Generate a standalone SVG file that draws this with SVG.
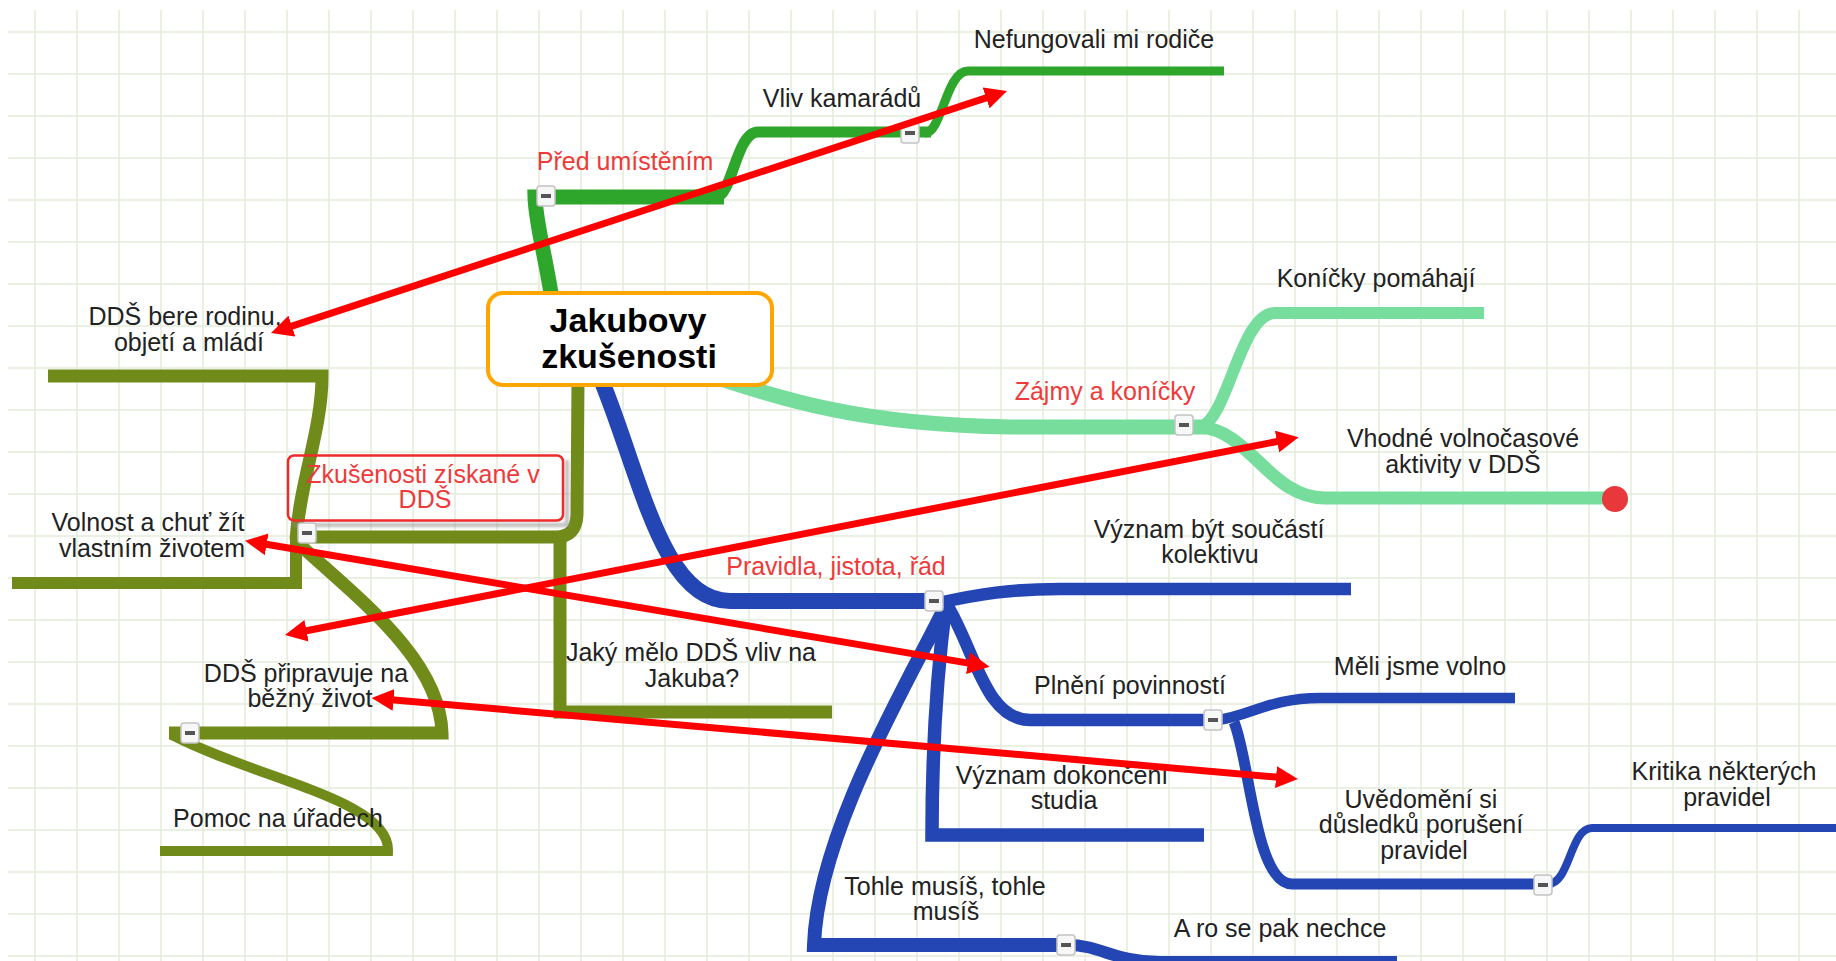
<svg xmlns="http://www.w3.org/2000/svg" xmlns:xlink="http://www.w3.org/1999/xlink" width="1836" height="961" viewBox="0 0 1836 961">
<defs>
<style>
.t{font-family:"Liberation Sans",Arial,sans-serif;font-size:25px;fill:#222;text-anchor:middle}
.r{fill:#ee3a3a}
.b{font-family:"Liberation Sans",Arial,sans-serif;font-size:34px;font-weight:bold;fill:#000;text-anchor:middle}
.g1{stroke:#2ea52b}
.g2{stroke:#76dd9c}
.g3{stroke:#718b1b}
.g4{stroke:#2346b4}
</style>
<marker id="ah" markerUnits="userSpaceOnUse" markerWidth="22" markerHeight="22" viewBox="0 0 22 22" refX="8" refY="11" orient="auto-start-reverse">
<path d="M0,0 L22,11 L0,22 z" fill="#ff0000"/>
</marker>
<g id="btn">
<rect x="-9" y="-10" width="18" height="20" rx="3" fill="#f7f7f7" stroke="#c4c4c4" stroke-width="1.5"/>
<rect x="-5" y="-2" width="10" height="4" fill="#555"/>
</g>
<filter id="blur" x="-10%" y="-10%" width="120%" height="130%"><feGaussianBlur stdDeviation="1.5"/></filter>
</defs>
<rect width="1836" height="961" fill="#fff"/>
<g id="grid" stroke="#e4edda" stroke-width="1.5" fill="none">
<path d="M35,10V961M77,10V961M119,10V961M161,10V961M203,10V961M245,10V961M287,10V961M329,10V961M371,10V961M413,10V961M455,10V961M497,10V961M539,10V961M581,10V961M623,10V961M665,10V961M707,10V961M749,10V961M791,10V961M833,10V961M875,10V961M917,10V961M959,10V961M1001,10V961M1043,10V961M1085,10V961M1127,10V961M1169,10V961M1211,10V961M1253,10V961M1295,10V961M1337,10V961M1379,10V961M1421,10V961M1463,10V961M1505,10V961M1547,10V961M1589,10V961M1631,10V961M1673,10V961M1715,10V961M1757,10V961M1799,10V961"/>
<path d="M8,32H1836M8,74H1836M8,116H1836M8,158H1836M8,200H1836M8,242H1836M8,284H1836M8,326H1836M8,368H1836M8,410H1836M8,452H1836M8,494H1836M8,536H1836M8,578H1836M8,620H1836M8,662H1836M8,704H1836M8,746H1836M8,788H1836M8,830H1836M8,872H1836M8,914H1836M8,956H1836"/>
</g>
<g id="connectors" fill="none" stroke-linecap="butt" stroke-linejoin="miter">
<g id="branch-pred">
<path class="g1" d="M556,330 C550,270 536,230 535,197 L724,197" stroke-width="15"/>
<path class="g1" d="M716,197 C732,197 736,132 758,132 L931,132" stroke-width="11"/>
<path class="g1" d="M925,133 C942,133 946,71 968,71 L1224,71" stroke-width="9"/>
</g>
<g id="branch-zajmy">
<path class="g2" d="M700,372 C785,400 860,425 1010,427 L1206,427" stroke-width="15"/>
<path class="g2" d="M1200,427 C1228,420 1240,313 1275,313 L1484,313" stroke-width="12"/>
<path class="g2" d="M1200,427 C1250,430 1270,498 1325,498 L1605,498" stroke-width="13"/>
</g>
<g id="branch-zkusenosti">
<path class="g3" d="M578,380 L577,515 Q576,537 556,537 L294,537" stroke-width="13"/>
<path class="g3" d="M560,537 V712 H832" stroke-width="13"/>
<path class="g3" d="M48,376 L322,376 C322,430 300,480 296,540" stroke-width="13"/>
<path class="g3" d="M12,583 L296,583 L296,537" stroke-width="12"/>
<path class="g3" d="M300,545 C360,600 440,660 442,733 L169,733" stroke-width="13"/>
<path class="g3" d="M172,735 C260,780 390,800 388,851 L160,851" stroke-width="10"/>
</g>
<g id="branch-pravidla">
<path class="g4" d="M598,372 C640,470 660,601 730,601 L940,601" stroke-width="16"/>
<path class="g4" d="M938,603 C980,594 1010,589 1060,589 L1351,589" stroke-width="12.5"/>
<path class="g4" d="M946,603 C975,650 985,720 1030,720 L1222,720" stroke-width="12.5"/>
<path class="g4" d="M946,603 C936,680 932,760 932,835 L1204,835" stroke-width="13.5"/>
<path class="g4" d="M946,605 C910,680 818,830 814,945 L1065,945" stroke-width="14"/>
<path class="g4" d="M1218,720 C1250,716 1270,698 1320,698 L1515,698" stroke-width="10.5"/>
<path class="g4" d="M1234,722 C1250,760 1255,884 1292,884 L1545,884" stroke-width="11"/>
<path class="g4" d="M1548,884 C1570,884 1570,828 1592,828 L1836,828" stroke-width="8"/>
<path class="g4" d="M1068,945 C1100,945 1115,962 1160,962 L1397,962" stroke-width="12"/>
</g>
</g>
<g id="n-root">
<rect x="488" y="293" width="284" height="92" rx="15" fill="#fff" stroke="#ffa500" stroke-width="4"/>
<text class="b" x="628" y="332">Jakubovy</text>
<text class="b" x="629" y="368">zkušenosti</text>
</g>
<g id="n-pred">
<text class="t r" x="625" y="170">Před umístěním</text>
<use xlink:href="#btn" x="546" y="196"/>
</g>
<g id="n-vliv">
<text class="t" x="842" y="107">Vliv kamarádů</text>
<use xlink:href="#btn" x="910" y="133"/>
</g>
<g id="n-nefungovali">
<text class="t" x="1094" y="48">Nefungovali mi rodiče</text>
</g>
<g id="n-zajmy">
<text class="t r" x="1105" y="400">Zájmy a koníčky</text>
<use xlink:href="#btn" x="1184" y="425"/>
</g>
<g id="n-konicky">
<text class="t" x="1376" y="287">Koníčky pomáhají</text>
</g>
<g id="n-vhodne">
<text class="t" x="1463" y="447">Vhodné volnočasové</text>
<text class="t" x="1463" y="473">aktivity v DDŠ</text>
<circle cx="1615" cy="499" r="13" fill="#e8383c"/>
</g>
<g id="n-zkusenosti">
<path d="M567,460 V525 H292" fill="none" stroke="#888" stroke-width="4" opacity="0.55" filter="url(#blur)"/>
<rect x="288" y="455.5" width="275" height="65" rx="6" fill="none" stroke="#ee2a2a" stroke-width="2.5"/>
<text class="t r" x="423" y="483">Zkušenosti získané v</text>
<text class="t r" x="425" y="508">DDŠ</text>
<use xlink:href="#btn" x="307" y="533"/>
</g>
<g id="n-bere">
<text class="t" x="185" y="325">DDŠ bere rodinu,</text>
<text class="t" x="189" y="351">objetí a mládí</text>
</g>
<g id="n-volnost">
<text class="t" x="148" y="531">Volnost a chuť žít</text>
<text class="t" x="152" y="557">vlastním životem</text>
</g>
<g id="n-pripravuje">
<text class="t" x="306" y="682">DDŠ připravuje na</text>
<text class="t" x="310" y="707">běžný život</text>
<use xlink:href="#btn" x="190" y="733"/>
</g>
<g id="n-pomoc">
<text class="t" x="278" y="827">Pomoc na úřadech</text>
</g>
<g id="n-jaky">
<text class="t" x="691" y="661">Jaký mělo DDŠ vliv na</text>
<text class="t" x="692" y="687">Jakuba?</text>
</g>
<g id="n-pravidla">
<text class="t r" x="836" y="575">Pravidla, jistota, řád</text>
<use xlink:href="#btn" x="934" y="601"/>
</g>
<g id="n-vyznam-kolektiv">
<text class="t" x="1209" y="538">Význam být součástí</text>
<text class="t" x="1210" y="563">kolektivu</text>
</g>
<g id="n-plneni">
<text class="t" x="1130" y="694">Plnění povinností</text>
<use xlink:href="#btn" x="1213" y="720"/>
</g>
<g id="n-meli">
<text class="t" x="1420" y="675">Měli jsme volno</text>
</g>
<g id="n-uvedomeni">
<text class="t" x="1421" y="808">Uvědomění si</text>
<text class="t" x="1421" y="833">důsledků porušení</text>
<text class="t" x="1424" y="859">pravidel</text>
<use xlink:href="#btn" x="1543" y="885"/>
</g>
<g id="n-kritika">
<text class="t" x="1724" y="780">Kritika některých</text>
<text class="t" x="1727" y="806">pravidel</text>
</g>
<g id="n-studium">
<text class="t" x="1062" y="784">Význam dokončení</text>
<text class="t" x="1064" y="809">studia</text>
</g>
<g id="n-tohle">
<text class="t" x="945" y="895">Tohle musíš, tohle</text>
<text class="t" x="946" y="920">musíš</text>
<use xlink:href="#btn" x="1066" y="945"/>
</g>
<g id="n-aro">
<text class="t" x="1280" y="937">A ro se pak nechce</text>
</g>
<g id="relations" stroke="#ff0000" stroke-width="7" fill="none" marker-start="url(#ah)" marker-end="url(#ah)">
<line x1="284.3" y1="328.6" x2="993.7" y2="95.4"/>
<line x1="298.7" y1="632.3" x2="1284.9" y2="440"/>
<line x1="258.8" y1="543" x2="975.8" y2="664.4"/>
<line x1="385.6" y1="699.2" x2="1284" y2="777.8"/>
</g>
</svg>
